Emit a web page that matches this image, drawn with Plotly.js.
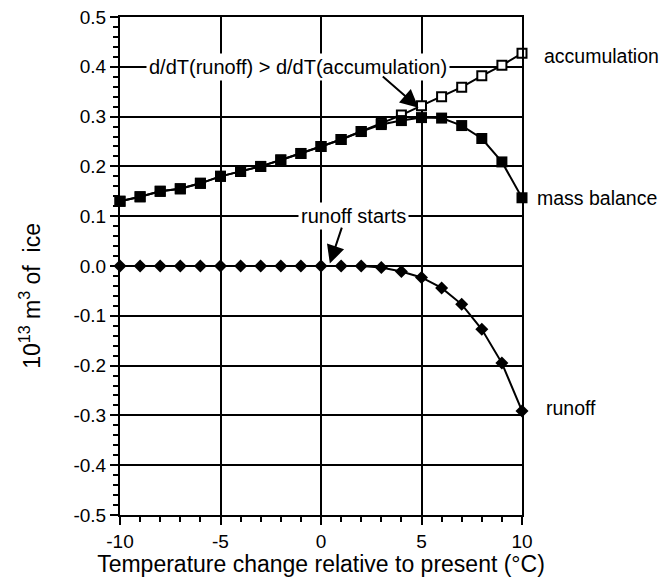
<!DOCTYPE html>
<html>
<head>
<meta charset="utf-8">
<script src="https://cdn.plot.ly/plotly-3.0.1.min.js"></script>
<style>html,body{margin:0;padding:0;background:#fff;}#chart{width:663px;height:577px;}</style>
</head>
<body>
<div id="chart"></div>
<script>
const temperature = [-10,-9,-8,-7,-6,-5,-4,-3,-2,-1,0,1,2,3,4,5,6,7,8,9,10];
const massBalance = [0.130,0.139,0.150,0.155,0.166,0.180,0.190,0.200,0.213,0.226,0.240,0.254,0.270,0.284,0.292,0.298,0.297,0.282,0.256,0.209,0.137];
const accumulation = [0.130,0.139,0.150,0.155,0.166,0.180,0.190,0.200,0.213,0.226,0.240,0.254,0.270,0.287,0.303,0.322,0.340,0.359,0.382,0.403,0.427];
const runoff = [0,0,0,0,0,0,0,0,0,0,0,0,0,-0.003,-0.011,-0.023,-0.044,-0.077,-0.127,-0.195,-0.291];

const xTickVals = [-10,-5,0,5,10];
const xTickText = ["-10","-5","0","5","10"];
const yTickVals = [-0.5,-0.4,-0.3,-0.2,-0.1,0,0.1,0.2,0.3,0.4,0.5];
const yTickText = ["-0.5","-0.4","-0.3","-0.2","-0.1","0.0","0.1","0.2","0.3","0.4","0.5"];

const seriesLabels = ["accumulation","mass balance","runoff"];
const seriesLabelY = [0.422,0.137,-0.286];

const FONT = "Liberation Sans, Arial, sans-serif";

const traces = [
  {x: temperature, y: accumulation, mode: "lines+markers", name: "accumulation", cliponaxis: false,
   line: {color: "#000", width: 2},
   marker: {symbol: "square", size: 9, color: "#fff", line: {color: "#000", width: 2}}},
  {x: temperature, y: massBalance, mode: "lines+markers", name: "mass balance", cliponaxis: false,
   line: {color: "#000", width: 2},
   marker: {symbol: "square", size: 11, color: "#000"}},
  {x: temperature, y: runoff, mode: "lines+markers", name: "runoff", cliponaxis: false,
   line: {color: "#000", width: 2},
   marker: {symbol: "diamond", size: 10, color: "#000"}}
];

const annotations = [
  {xref: "paper", yref: "paper", x: -0.224, y: 0.44, xanchor: "center", yanchor: "middle",
   textangle: -90, showarrow: false, text: "10<sup>13</sup> m<sup>3</sup> of  ice",
   font: {family: FONT, size: 23, color: "#000"}},
  {xref: "x", yref: "y", x: -1.12, y: 0.4, xanchor: "center", yanchor: "middle", showarrow: false,
   text: "d/dT(runoff) > d/dT(accumulation)", bgcolor: "#fff", borderpad: 2,
   font: {family: FONT, size: 20, color: "#000"}},
  {xref: "x", yref: "y", x: 1.62, y: 0.1, xanchor: "center", yanchor: "middle", showarrow: false,
   text: "runoff starts", bgcolor: "#fff", borderpad: 2,
   font: {family: FONT, size: 20, color: "#000"}},
  {xref: "x", yref: "y", x: 4.85, y: 0.318, axref: "x", ayref: "y", ax: 3.0, ay: 0.383,
   text: "", showarrow: true, arrowhead: 2, arrowsize: 1.8, arrowwidth: 2, arrowcolor: "#000",
   standoff: 0, startstandoff: 0},
  {xref: "x", yref: "y", x: 0.44, y: 0.005, axref: "x", ayref: "y", ax: 1.06, ay: 0.08,
   text: "", showarrow: true, arrowhead: 2, arrowsize: 1.8, arrowwidth: 2, arrowcolor: "#000",
   standoff: 0, startstandoff: 0}
];
const labelX = [1.051, 1.036, 1.058];
const labelSize = [19.5, 19.5, 19.5];
seriesLabels.forEach((t, i) => annotations.push({
  xref: "paper", yref: "y", x: labelX[i], y: seriesLabelY[i], xanchor: "left", yanchor: "middle",
  showarrow: false, text: t, borderpad: 0, font: {family: FONT, size: labelSize[i], color: "#000"}
}));

const layout = {
  width: 663, height: 577,
  margin: {l: 120, r: 141, t: 17, b: 62, pad: 0},
  paper_bgcolor: "#fff", plot_bgcolor: "#fff",
  showlegend: false,
  font: {family: FONT, size: 19, color: "#000"},
  xaxis: {
    range: [-10, 10], tickmode: "array", tickvals: xTickVals, ticktext: xTickText,
    ticks: "outside", ticklen: 8, tickwidth: 2, tickcolor: "#000",
    showline: true, linecolor: "#000", linewidth: 2, mirror: true,
    showgrid: true, gridcolor: "#000", gridwidth: 2, zeroline: false,
    tickfont: {family: FONT, size: 19, color: "#000"},
    minor: {tickmode: "linear", tick0: -10, dtick: 1, ticks: "outside", ticklen: 5, tickwidth: 2, tickcolor: "#000", showgrid: false},
    title: {text: "Temperature change relative to present (°C)", standoff: 6,
            font: {family: FONT, size: 23, color: "#000"}}
  },
  yaxis: {
    range: [-0.5, 0.5], tickmode: "array", tickvals: yTickVals, ticktext: yTickText,
    ticks: "outside", ticklen: 8, tickwidth: 2, tickcolor: "#000",
    showline: true, linecolor: "#000", linewidth: 2, mirror: true,
    showgrid: true, gridcolor: "#000", gridwidth: 2, zeroline: false,
    tickfont: {family: FONT, size: 19, color: "#000"},
    minor: {tickmode: "linear", tick0: -0.5, dtick: 0.02, ticks: "outside", ticklen: 5, tickwidth: 2, tickcolor: "#000", showgrid: false}
  },
  annotations: annotations
};

Plotly.newPlot("chart", traces, layout, {displayModeBar: false, staticPlot: true});
</script>
</body>
</html>
